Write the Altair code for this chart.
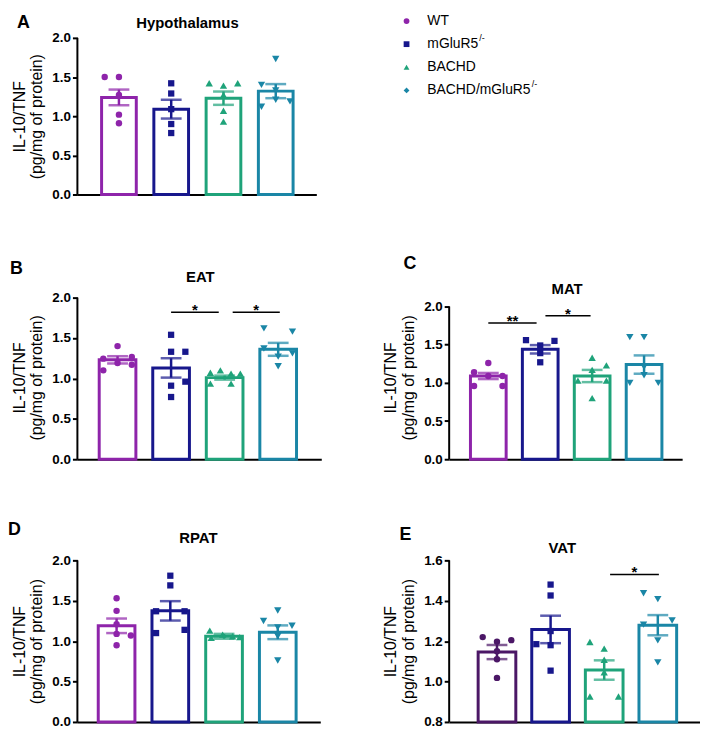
import altair as alt
import pandas as pd

GROUPS = ["WT", "mGluR5/-", "BACHD", "BACHD/mGluR5/-"]
COLORS = ["#8E24AA", "#17178C", "#1FA37A", "#1A86A6"]
COLORS_E = ["#4B1766", "#17178C", "#1FA37A", "#1A86A6"]
SHAPES = ["circle", "square", "triangle-up", "triangle-down"]
SHAPE_SIZE = [42, 40, 55, 55]
LEG_SHAPES = ["circle", "square", "triangle-up", "diamond"]
LEG_LABELS = ["WT", "mGluR5", "BACHD", "BACHD/mGluR5"]
LEG_SUP = ["", "/-", "", "/-"]
Y_TITLE = ["IL-10/TNF", "(pg/mg of protein)"]

# ---- Panel A: Hypothalamus
A_MEAN = [1.24, 1.09, 1.23, 1.32]
A_SEM = [0.10, 0.12, 0.085, 0.09]
A_PTS = [[1.50, 1.50, 1.27, 1.02, 0.91],
         [1.42, 1.29, 1.09, 0.90, 0.785],
         [1.42, 1.39, 1.42, 1.27, 1.07, 0.93],
         [1.73, 1.40, 1.33, 1.21, 1.19, 1.12]]
A_SPREAD = [[-1, 0, 0, 0, 0],
            [0, 0, 0, 0, 0],
            [-1, 0, 1, 0, 0, 0],
            [0, -1, 0, 0, 1, -1]]
A_SIG = []

# ---- Panel B: EAT
B_MEAN = [1.23, 1.13, 1.01, 1.36]
B_SEM = [0.045, 0.12, 0.025, 0.08]
B_PTS = [[1.40, 1.265, 1.245, 1.19, 1.17, 1.10],
         [1.54, 1.33, 1.33, 0.96, 0.91, 0.77],
         [1.10, 1.07, 1.06, 1.06, 0.935, 0.935],
         [1.62, 1.58, 1.37, 1.31, 1.27, 1.15]]
B_SPREAD = [[0, 1, -1, 0, 1, -1],
            [0, 0, 1, 1, 0, 0],
            [-0.3, -1, 0.45, 1.1, -1, 0.45],
            [-1, 1, -1, 1, 0, 0]]
B_SIG = [(1.0, 1.89, 1.82, "*"), (2.15, 3.03, 1.82, "*")]

# ---- Panel C: MAT
C_MEAN = [1.09, 1.44, 1.09, 1.24]
C_SEM = [0.04, 0.055, 0.08, 0.12]
C_PTS = [[1.26, 1.14, 1.09, 1.09, 0.96, 0.96],
         [1.56, 1.55, 1.49, 1.39, 1.27],
         [1.33, 1.23, 1.17, 1.03, 1.03, 0.80],
         [1.60, 1.60, 1.21, 1.10, 1.00, 1.00]]
C_SPREAD = [[0, -1, 0, 1, -1, 1],
            [-1, 1, 0, 0, 0],
            [0, 1, 0, -1, 1, 0],
            [-1, 0, 0, 0, -1, 1]]
C_SIG = [(0.0, 0.93, 1.785, "**"), (1.10, 1.97, 1.88, "*")]

# ---- Panel D: RPAT
D_MEAN = [1.19, 1.375, 1.06, 1.11]
D_SEM = [0.09, 0.12, 0.03, 0.085]
D_PTS = [[1.53, 1.375, 1.21, 1.07, 1.09, 0.95],
         [1.81, 1.69, 1.37, 1.37, 1.10, 1.14],
         [1.13, 1.04, 1.08, 1.06, 1.05],
         [1.38, 1.25, 1.19, 1.17, 1.06, 0.76]]
D_SPREAD = [[0, 0, 0, 1, 0, 0],
            [0, 0, -1, 1, -1, 1],
            [-1, -0.9, -0.1, 0.6, 1.1],
            [0, -1, 1, 0, 0, 0]]
D_SIG = []

# ---- Panel E: VAT
E_MEAN = [1.146, 1.258, 1.057, 1.279]
E_SEM = [0.035, 0.068, 0.048, 0.05]
E_PTS = [[1.22, 1.197, 1.205, 1.15, 1.11, 1.018],
         [1.48, 1.426, 1.25, 1.185, 1.18, 1.054],
         [1.196, 1.163, 1.108, 1.046, 0.926, 0.926],
         [1.437, 1.408, 1.302, 1.282, 1.204, 1.095]]
E_SPREAD = [[-1, 0, 1, 0, 0, 0],
            [0, 0, 0, -1, 0, 0],
            [-1, 0, 0, 0, -1, 1],
            [-1, 0, 1, -1, 0, 0]]
E_SIG = [(2.11, 3.02, 1.53, "*")]

FONT = "Liberation Sans"


def panel(mean, sem, pts, spread, sig, colors, ymin, ymax, ticks, W, H, gap,
          first, step, bw, name, tpos, letter, lpos):
    dmax = ymax + (ymax - ymin) * gap / (H - gap)
    xs = alt.Scale(domain=[-first / step, (W - first) / step], nice=False, zero=False)
    ys = alt.Scale(domain=[ymin, dmax], nice=False, zero=False)
    xax = alt.Axis(labels=False, ticks=False, title=None, grid=False,
                   domainColor="black", domainWidth=2)
    yax = alt.Axis(values=ticks, format=".1f", title=Y_TITLE, domain=False, grid=False,
                   tickColor="black", tickWidth=2, tickSize=5,
                   labelFontWeight="bold", labelFontSize=13.5, labelColor="black",
                   labelPadding=2, labelFont=FONT,
                   titleFontSize=16, titleFontWeight="normal", titlePadding=7,
                   titleColor="black", titleFont=FONT, titleLineHeight=18)

    def X(f):
        return alt.X(f, scale=xs, axis=xax)

    def Y(f):
        return alt.Y(f, scale=ys, axis=yax)

    bars = pd.DataFrame({
        "idx": list(range(4)),
        "mean": mean,
        "lo": [m - s for m, s in zip(mean, sem)],
        "hi": [m + s for m, s in zip(mean, sem)],
        "base": [ymin] * 4,
        "col": colors,
    })
    rows = []
    for i, (vals, sps) in enumerate(zip(pts, spread)):
        for v, sp in zip(vals, sps):
            rows.append({"xp": i + sp * 15.0 / step, "v": v, "col": colors[i],
                         "shp": SHAPES[i], "sz": SHAPE_SIZE[i]})
    pdf = pd.DataFrame(rows)

    bar = alt.Chart(bars).mark_bar(size=bw, fill="white", strokeWidth=3).encode(
        x=X("idx:Q"), y=Y("mean:Q"), y2="base:Q",
        stroke=alt.Stroke("col:N", scale=None),
    )
    yline = alt.Chart(pd.DataFrame({"a": [ymin], "b": [ymax]})).mark_rule(
        color="black", strokeWidth=2).encode(
        x=alt.value(0), y=Y("a:Q"), y2="b:Q")
    points = alt.Chart(pdf).mark_point(filled=True, opacity=1).encode(
        x=X("xp:Q"), y=Y("v:Q"),
        color=alt.Color("col:N", scale=None),
        shape=alt.Shape("shp:N", scale=None),
        size=alt.Size("sz:Q", scale=None),
    )
    err = alt.Chart(bars).mark_rule(strokeWidth=2.5).encode(
        x=X("idx:Q"), y=Y("lo:Q"), y2="hi:Q",
        color=alt.Color("col:N", scale=None),
    )
    cap_lo = alt.Chart(bars).mark_tick(orient="horizontal", size=21, thickness=2.5).encode(
        x=X("idx:Q"), y=Y("lo:Q"), color=alt.Color("col:N", scale=None))
    cap_hi = alt.Chart(bars).mark_tick(orient="horizontal", size=21, thickness=2.5).encode(
        x=X("idx:Q"), y=Y("hi:Q"), color=alt.Color("col:N", scale=None))
    title = alt.Chart(pd.DataFrame({"t": [name]})).mark_text(
        font=FONT, fontSize=15, fontWeight="bold", align="center",
        baseline="middle", color="black").encode(
        x=alt.value(tpos[0]), y=alt.value(tpos[1]), text="t:N")
    let = alt.Chart(pd.DataFrame({"t": [letter]})).mark_text(
        font=FONT, fontSize=18, fontWeight="bold", align="left",
        baseline="top", color="black").encode(
        x=alt.value(lpos[0]), y=alt.value(lpos[1]), text="t:N")
    layers = [bar, yline, points, err, cap_lo, cap_hi, title, let]
    if sig:
        sdf = pd.DataFrame({
            "x1": [s[0] for s in sig], "x2": [s[1] for s in sig],
            "y": [s[2] for s in sig], "lab": [s[3] for s in sig],
            "xm": [(s[0] + s[1]) / 2 for s in sig],
        })
        srule = alt.Chart(sdf).mark_rule(color="black", strokeWidth=1.5).encode(
            x=X("x1:Q"), x2="x2:Q", y=Y("y:Q"))
        stext = alt.Chart(sdf).mark_text(
            font=FONT, fontSize=15, fontWeight="bold", baseline="alphabetic",
            dy=3, color="black").encode(
            x=X("xm:Q"), y=Y("y:Q"), text="lab:N")
        layers += [srule, stext]
    return alt.layer(*layers).properties(width=W, height=H)


pA = panel(A_MEAN, A_SEM, A_PTS, A_SPREAD, A_SIG, COLORS, 0.0, 2.0,
           [0.0, 0.5, 1.0, 1.5, 2.0], 241, 158, 0, 38.5, 55, 35,
           "Hypothalamus", (111, -15), "A", (-61, -24))
pB = panel(B_MEAN, B_SEM, B_PTS, B_SPREAD, B_SIG, COLORS, 0.0, 2.0,
           [0.0, 0.5, 1.0, 1.5, 2.0], 246, 165, 2, 37, 56.3, 37,
           "EAT", (124, -19), "B", (-68, -36))
pC = panel(C_MEAN, C_SEM, C_PTS, C_SPREAD, C_SIG, COLORS, 0.0, 2.0,
           [0.0, 0.5, 1.0, 1.5, 2.0], 235, 165, 11, 36, 54.7, 36,
           "MAT", (119, -7), "C", (-46, -41))
pD = panel(D_MEAN, D_SEM, D_PTS, D_SPREAD, D_SIG, COLORS, 0.0, 2.0,
           [0.0, 0.5, 1.0, 1.5, 2.0], 245, 163, 0, 36, 56.5, 37,
           "RPAT", (122, -22), "D", (-70, -40))
pE = panel(E_MEAN, E_SEM, E_PTS, E_SPREAD, E_SIG, COLORS_E, 0.8, 1.6,
           [0.8, 1.0, 1.2, 1.4, 1.6], 253, 163, 0, 45, 56.3, 38,
           "VAT", (114, -12), "E", (-50, -35))

# ---- Legend
AW = {"W": .944, "T": .611, "m": .833, "G": .778, "l": .222, "u": .556,
      "R": .722, "5": .556, "B": .667, "A": .667, "C": .722, "H": .722,
      "D": .722, "/": .278}
LEG_FS = 14
LEG_TX = -22
leg_df = pd.DataFrame({
    "g": GROUPS, "lab": LEG_LABELS, "sup": LEG_SUP,
    "shp": LEG_SHAPES, "col": COLORS,
    "sx": [LEG_TX + sum(AW.get(c, 0.55) for c in s) * LEG_FS + 1 for s in LEG_LABELS],
})
ysc = alt.Scale(type="point", domain=GROUPS, range=[-17, 53], padding=0)
leg_pts = alt.Chart(leg_df).mark_point(filled=True, size=34, opacity=1).encode(
    x=alt.value(-43), y=alt.Y("g:N", scale=ysc, axis=None),
    shape=alt.Shape("shp:N", scale=None), color=alt.Color("col:N", scale=None))
leg_txt = alt.Chart(leg_df).mark_text(
    font=FONT, fontSize=LEG_FS, align="left", baseline="middle", color="black").encode(
    x=alt.value(LEG_TX), y=alt.Y("g:N", scale=ysc, axis=None), text="lab:N")
leg_sup = alt.Chart(leg_df).mark_text(
    font=FONT, fontSize=9, align="left", baseline="middle", dy=-6, color="black").encode(
    x=alt.X("sx:Q", scale=None, axis=None), y=alt.Y("g:N", scale=ysc, axis=None),
    text="sup:N")
legend = alt.layer(leg_pts, leg_txt, leg_sup).properties(width=200, height=100)

chart = alt.concat(
    pA, legend, pB, pC, pD, pE,
    columns=2, spacing={"row": 102, "column": 129}, bounds="flush",
).resolve_scale(x="independent", y="independent").properties(
    padding=0
).configure(font=FONT).configure_view(stroke=None)

chart.save("out.html", embed_options={"renderer": "svg", "actions": False})
